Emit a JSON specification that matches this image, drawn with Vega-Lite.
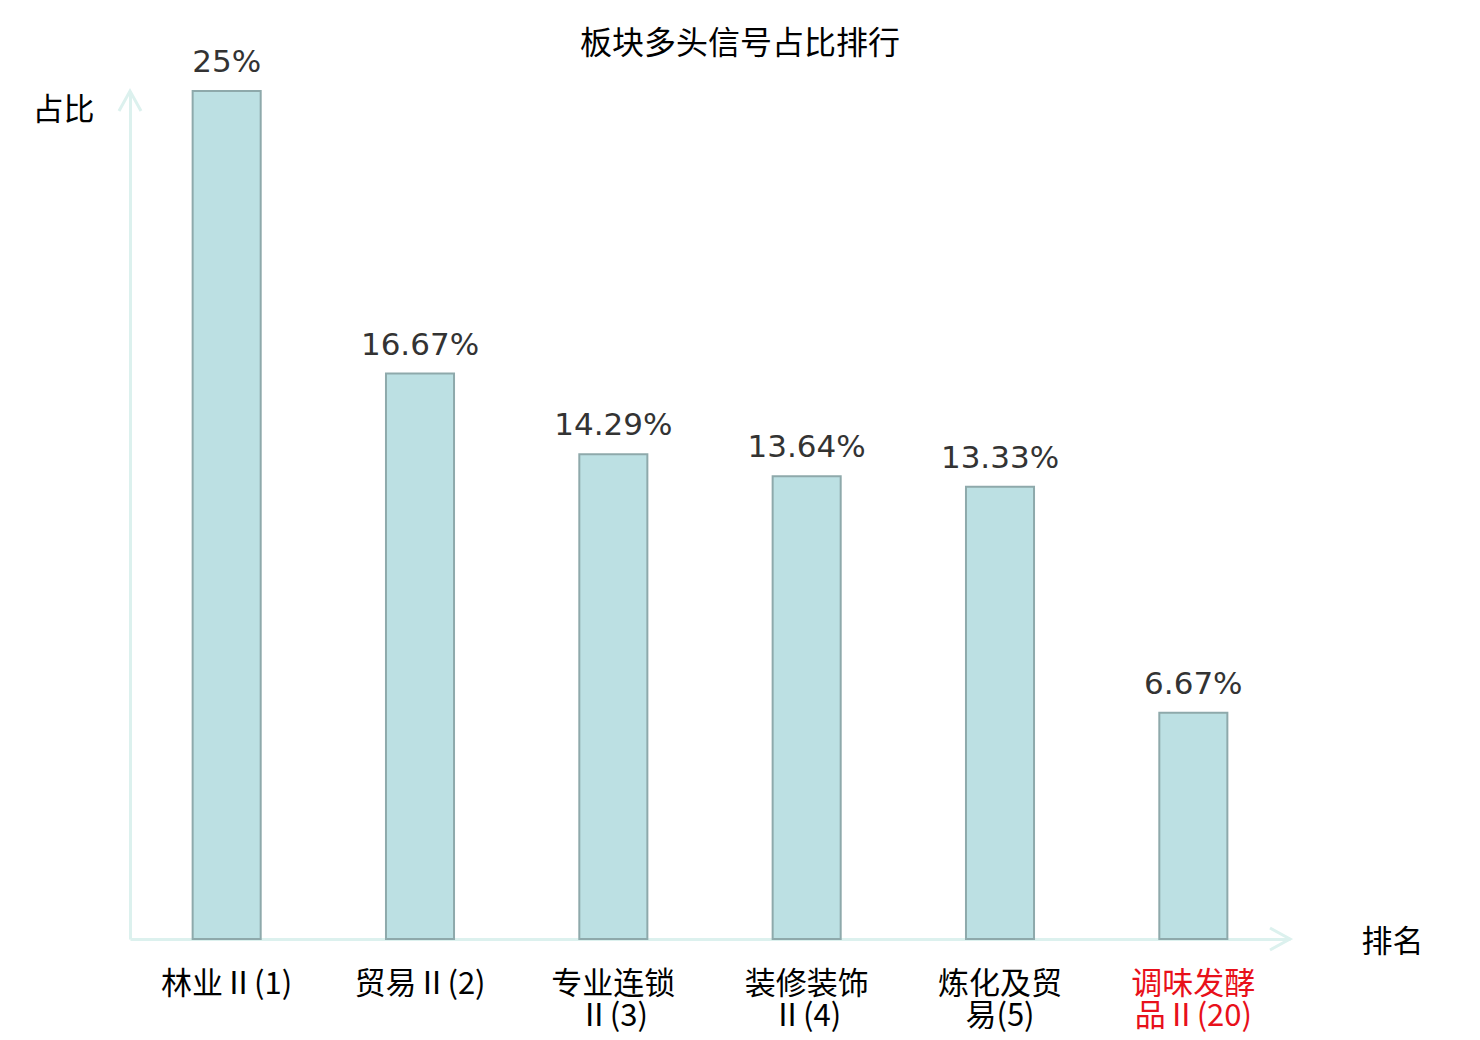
{
  "$schema": "https://vega.github.io/schema/vega-lite/v6.json",
  "description": "板块多头信号占比排行",
  "autosize": {"type": "none"},
  "padding": {"left": 130, "top": 91, "right": 190, "bottom": 101},
  "width": 1160,
  "height": 848,
  "background": "white",
  "config": {"view": {"stroke": null}},
  "title": {
    "text": "板块多头信号占比排行",
    "font": "Noto Sans CJK SC",
    "fontSize": 32,
    "fontWeight": "normal",
    "color": "#000000",
    "anchor": "middle",
    "dx": 30,
    "offset": -14
  },
  "data": {
    "values": [
      {"sector": "林业Ⅱ(1)", "share": 0.25},
      {"sector": "贸易Ⅱ(2)", "share": 0.1667},
      {"sector": "专业连锁Ⅱ(3)", "share": 0.1429},
      {"sector": "装修装饰Ⅱ(4)", "share": 0.1364},
      {"sector": "炼化及贸易(5)", "share": 0.1333},
      {"sector": "调味发酵品Ⅱ(20)", "share": 0.0667}
    ]
  },
  "encoding": {
    "x": {
      "field": "sector", "type": "nominal", "sort": null,
      "scale": {"paddingInner": 0.648, "paddingOuter": 0.324},
      "axis": {
        "title": "排名",
        "titleFont": "Noto Sans CJK SC", "titleFontSize": 31, "titleFontWeight": "normal",
        "titleColor": "#000000", "titleAngle": 0,
        "titleX": 1262, "titleY": 3, "titleAlign": "center", "titleBaseline": "middle",
        "labelAngle": 0,
        "labelFont": "Noto Sans CJK SC", "labelFontSize": 31, "labelLineHeight": 32,
        "labelPadding": 30, "labelBaseline": "top",
        "labelExpr": "length(datum.label) > 6 ? [substring(datum.label, 0, 4), substring(datum.label, 4)] : datum.label",
        "labelColor": {"condition": {"test": "datum.value == '调味发酵品Ⅱ(20)'", "value": "#e8101a"}, "value": "#000000"},
        "ticks": false,
        "domainColor": "#dcf1ee", "domainWidth": 3
      }
    },
    "y": {
      "field": "share", "type": "quantitative",
      "scale": {"domain": [0, 0.25], "nice": false},
      "axis": {
        "title": "占比",
        "titleFont": "Noto Sans CJK SC", "titleFontSize": 31, "titleFontWeight": "normal",
        "titleColor": "#000000", "titleAngle": 0,
        "titleX": -67, "titleY": 19, "titleAlign": "center", "titleBaseline": "middle",
        "labels": false, "ticks": false, "grid": false,
        "domainColor": "#dcf1ee", "domainWidth": 3
      }
    }
  },
  "layer": [
    {
      "mark": {"type": "bar", "fill": "#bce0e3", "stroke": "#8ea9ab", "strokeWidth": 2}
    },
    {
      "mark": {"type": "text", "font": "DejaVu Sans", "fontSize": 31, "color": "#333333", "baseline": "alphabetic", "dy": -19},
      "encoding": {"text": {"field": "share", "type": "quantitative", "format": ".4~%"}}
    },
    {
      "data": {"values": [{"arrow": "x"}]},
      "mark": {"type": "point", "shape": "M-1,-0.55L0,0L-1,0.55", "size": 1600, "filled": false, "stroke": "#dcf1ee", "strokeWidth": 3, "opacity": 1},
      "encoding": {"x": {"value": {"expr": "width"}}, "y": {"value": {"expr": "height"}}}
    },
    {
      "data": {"values": [{"arrow": "y"}]},
      "mark": {"type": "point", "shape": "M-0.55,1L0,0L0.55,1", "size": 1600, "filled": false, "stroke": "#dcf1ee", "strokeWidth": 3, "opacity": 1},
      "encoding": {"x": {"value": 0}, "y": {"value": 0}}
    }
  ]
}
